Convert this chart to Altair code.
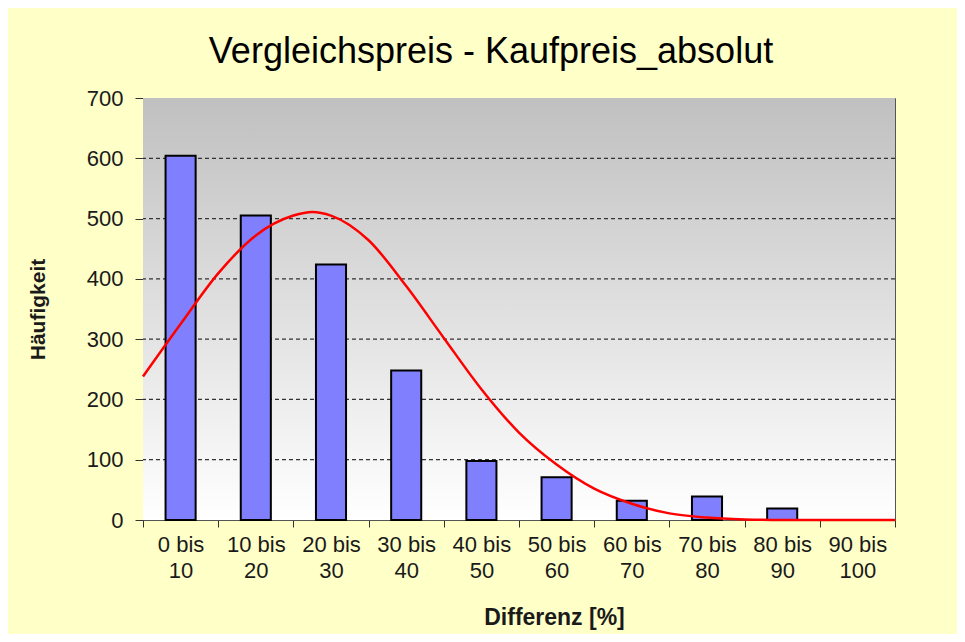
import altair as alt
import pandas as pd

# ---- data ----
bin_lo = [0, 10, 20, 30, 40, 50, 60, 70, 80, 90]
counts = [604, 505, 424, 248, 98, 71, 32, 39, 19, 0]

curve_x = [0, 5, 10, 15, 20, 22.5, 25, 30, 35, 40, 45, 50, 55, 60, 65, 70, 75, 80, 85, 90, 95, 100]
curve_y = [238, 325, 409, 472, 505, 511, 505, 464, 388, 302, 217, 145, 92, 52, 27, 11, 4, 1, 0, 0, 0, 0]

y_ticks = [0, 100, 200, 300, 400, 500, 600, 700]
x_ticks = list(range(0, 101, 5))

FONT = "Liberation Sans"

bars_df = pd.DataFrame({"lo": bin_lo, "count": counts})
curve_df = pd.DataFrame({"x": curve_x, "y": curve_y})
grid_df = pd.DataFrame({"v": y_ticks[1:-1]})
bg_df = pd.DataFrame({"x0": [x_ticks[0]], "x1": [x_ticks[-1]], "y0": [y_ticks[0]], "y1": [y_ticks[-1]]})

x_scale = alt.Scale(domain=[0, 100], nice=False, zero=False)
y_scale = alt.Scale(domain=[0, 700], nice=False)

x_axis = alt.Axis(
    title="Differenz [%]",
    values=x_ticks,
    labelExpr="datum.value % 10 == 5 ? [format(datum.value - 5, 'd') + ' bis', format(datum.value + 5, 'd')] : ''",
    tickOpacity={"condition": {"test": "datum.value % 10 == 5", "value": 0}, "value": 1},
    labelOverlap=False,
    labelFlush=False,
    grid=False,
    tickSize=7,
    tickColor="#333333",
    domainColor="#555555",
    labelFont=FONT,
    labelFontSize=22,
    labelLineHeight=26,
    labelColor="#1a1a1a",
    labelPadding=7,
    titleFont=FONT,
    titleFontSize=23,
    titleFontWeight="bold",
    titleColor="#1a1a1a",
    titleX=411,
    titleY=97,
    titleAlign="center",
    titleBaseline="middle",
)

y_axis = alt.Axis(
    title="Häufigkeit",
    values=y_ticks,
    grid=False,
    tickSize=8,
    tickColor="#333333",
    domainColor="#555555",
    labelFont=FONT,
    labelFontSize=22,
    labelColor="#1a1a1a",
    labelPadding=12,
    titleFont=FONT,
    titleFontSize=21,
    titleFontWeight="bold",
    titleColor="#1a1a1a",
    titleX=-105,
    titleY=211,
    titleAngle=-90,
    titleAlign="center",
    titleBaseline="middle",
)

gradient = alt.LinearGradient(
    gradient="linear",
    x1=0, y1=0, x2=0, y2=1,
    stops=[alt.GradientStop(color="#c0c0c0", offset=0), alt.GradientStop(color="#ffffff", offset=1)],
)

bg = alt.Chart(bg_df).mark_rect(fill=gradient, stroke=None).encode(
    x=alt.X("x0:Q", scale=x_scale, axis=x_axis),
    x2="x1:Q",
    y=alt.Y("y0:Q", scale=y_scale, axis=y_axis),
    y2="y1:Q",
)

grid = alt.Chart(grid_df).mark_rule(color="#333333", strokeDash=[4, 3], strokeWidth=1.2).encode(
    y=alt.Y("v:Q", scale=y_scale, axis=y_axis),
)

bars = alt.Chart(bars_df).transform_filter("datum.count > 0").transform_calculate(
    b0="datum.lo + 3", b1="datum.lo + 7"
).mark_rect(fill="#8080ff", stroke="#000000", strokeWidth=2).encode(
    x=alt.X("b0:Q", scale=x_scale, axis=x_axis),
    x2="b1:Q",
    y=alt.Y("count:Q", scale=y_scale, axis=y_axis),
    y2=alt.datum(0),
)

curve = alt.Chart(curve_df).mark_line(color="#ff0000", strokeWidth=2.5, interpolate="monotone").encode(
    x=alt.X("x:Q", scale=x_scale, axis=x_axis),
    y=alt.Y("y:Q", scale=y_scale, axis=y_axis),
)

chart = alt.layer(bg, grid, bars, curve).properties(
    width=752,
    height=422,
    title=alt.TitleParams(
        "Vergleichspreis - Kaufpreis_absolut",
        font=FONT,
        fontSize=36,
        fontWeight="normal",
        color="#000000",
        anchor="middle",
        frame="group",
        dx=-28,
        dy=34,
        baseline="alphabetic",
        offset=22,
    ),
    padding={"left": 135, "top": 90, "right": 62, "bottom": 114},
    autosize=alt.AutoSizeParams(type="none"),
    background="#ffffc8",
).configure_view(stroke="#555555", strokeWidth=1)

chart.save("out.html", embed_options={"renderer": "svg", "actions": False})
